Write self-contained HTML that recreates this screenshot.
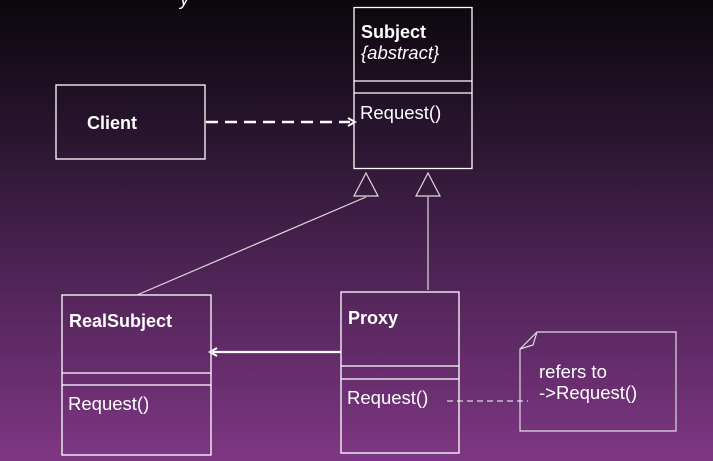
<!DOCTYPE html>
<html><head><meta charset="utf-8"><style>
html,body{margin:0;padding:0;width:713px;height:461px;overflow:hidden}
body{background:linear-gradient(to bottom,#0b070c 0%,#2a1530 30%,#4f2456 60%,#6c2f72 85%,#7f3784 100%)}
svg{position:absolute;left:0;top:0}
text{font-family:"Liberation Sans",Arial,sans-serif;fill:#fff;font-size:18.5px}
.b{font-weight:bold;font-size:18px}
</style></head><body>
<svg width="713" height="461" viewBox="0 0 713 461">
<g fill="none" stroke="#fff" stroke-width="1.3">
<rect x="354" y="7.5" width="118" height="161"/>
<line x1="354" y1="81" x2="472" y2="81"/><line x1="354" y1="93" x2="472" y2="93"/>
<rect x="56" y="85" width="149" height="74"/>
<rect x="62" y="295" width="149" height="160"/>
<line x1="62" y1="373" x2="211" y2="373"/><line x1="62" y1="385" x2="211" y2="385"/>
<rect x="341" y="292" width="118" height="161"/>
<line x1="341" y1="366" x2="459" y2="366"/><line x1="341" y1="379" x2="459" y2="379"/>
</g>
<g fill="none" stroke="#ddd" stroke-width="1.2">
<polygon points="366,173 354,196 378,196"/>
<polygon points="428,173 416,196 440,196"/>
<line x1="366" y1="197" x2="137" y2="295"/>
<line x1="428" y1="197" x2="428" y2="290"/>
<path d="M520,349 L537,332 L676,332 L676,431 L520,431 Z M520,349 L533,345 L537,332"/>
</g>
<line x1="206" y1="122" x2="350" y2="122" stroke="#fff" stroke-width="2.5" stroke-dasharray="12,7"/>
<path d="M348,118 L355,122 L348,126" fill="none" stroke="#fff" stroke-width="2"/>
<line x1="213" y1="352" x2="341" y2="352" stroke="#fff" stroke-width="2.3"/>
<path d="M217,348 L210,352 L217,356" fill="none" stroke="#fff" stroke-width="2"/>
<line x1="447" y1="401" x2="528" y2="401" stroke="#fff" stroke-width="1" stroke-dasharray="6,4"/>
<text x="361" y="38" class="b">Subject</text>
<text x="361" y="59" font-style="italic">{abstract}</text>
<text x="360" y="119">Request()</text>
<text x="87" y="129" class="b">Client</text>
<text x="69" y="327" class="b">RealSubject</text>
<text x="68" y="410">Request()</text>
<text x="348" y="324" class="b">Proxy</text>
<text x="347" y="404">Request()</text>
<text x="539" y="378">refers to</text>
<text x="539" y="399">-&gt;Request()</text>
<text x="180" y="5" font-size="14" font-style="italic">y</text>
</svg>
</body></html>
